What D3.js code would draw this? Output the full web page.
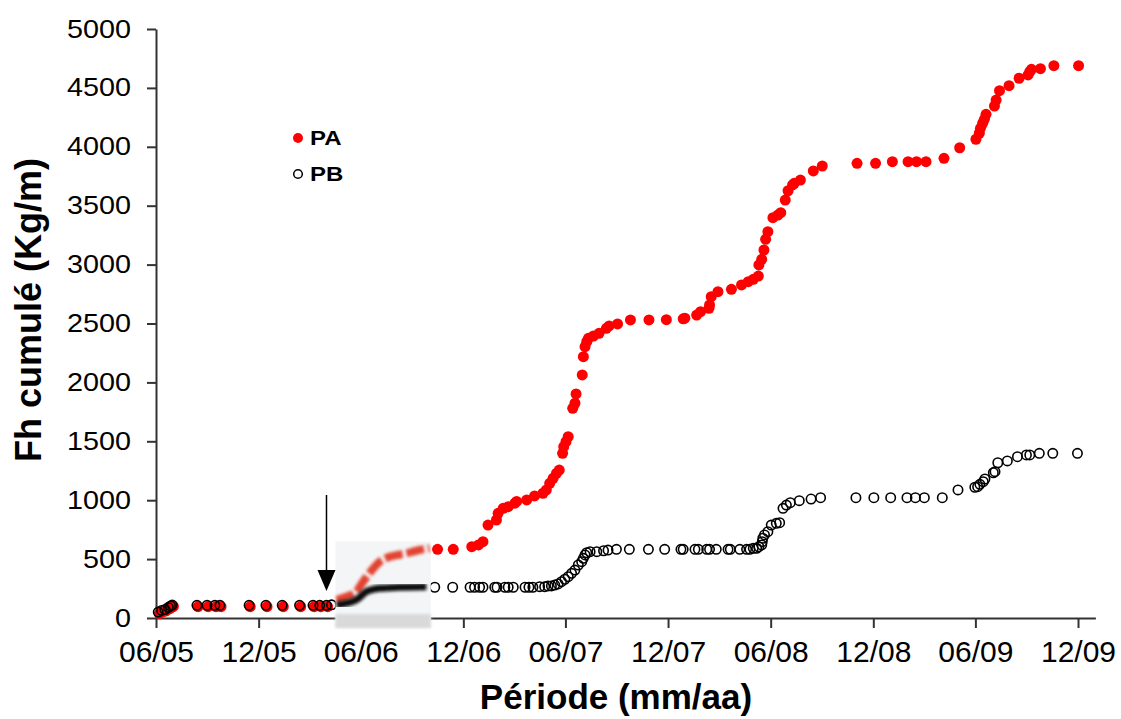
<!DOCTYPE html>
<html>
<head>
<meta charset="utf-8">
<script src="https://cdn.jsdelivr.net/npm/d3@7"></script>
<style>
  html, body { margin: 0; padding: 0; background: #fff; }
  svg { display: block; font-family: "Liberation Sans", Arial, sans-serif; }
</style>
</head>
<body>
<svg id="chart" width="1121" height="719"></svg>
<script>
const parse = d3.utcParse("%Y-%m-%d");

// axis ticks
const xTickDates = ["2005-06-01", "2005-12-01", "2006-06-01", "2006-12-01", "2007-06-01",
  "2007-12-01", "2008-06-01", "2008-12-01", "2009-06-01", "2009-12-01"];
const xTickLabels = ["06/05", "12/05", "06/06", "12/06", "06/07", "12/07", "06/08", "12/08", "06/09", "12/09"];
const yTicks = [0, 500, 1000, 1500, 2000, 2500, 3000, 3500, 4000, 4500, 5000];

// PA (filled red)
const paDates = [
  "2005-06-07", "2005-06-13", "2005-06-19", "2005-06-25", "2005-06-29", "2005-07-02",
  "2005-08-15", "2005-09-02", "2005-09-16", "2005-09-25", "2005-11-16", "2005-12-16",
  "2006-01-14", "2006-02-14", "2006-03-10", "2006-03-22", "2006-04-03",
  "2006-10-16", "2006-11-13", "2006-12-16", "2006-12-28", "2007-01-05", "2007-01-14",
  "2007-01-29", "2007-02-01", "2007-02-10", "2007-02-19", "2007-03-03", "2007-03-06",
  "2007-03-24", "2007-04-07", "2007-04-22", "2007-04-28", "2007-05-04", "2007-05-10",
  "2007-05-16", "2007-05-21", "2007-05-27", "2007-05-29", "2007-06-02", "2007-06-06",
  "2007-06-14", "2007-06-18", "2007-06-20", "2007-07-01", "2007-07-03", "2007-07-06",
  "2007-07-09", "2007-07-12", "2007-07-21", "2007-07-31", "2007-08-13", "2007-08-18",
  "2007-09-02", "2007-09-25", "2007-10-28", "2007-11-28", "2007-12-28", "2007-12-31",
  "2008-01-21", "2008-01-28", "2008-02-12", "2008-02-13", "2008-02-16", "2008-02-28",
  "2008-03-23", "2008-04-10", "2008-04-22", "2008-05-01", "2008-05-10", "2008-05-11",
  "2008-05-16", "2008-05-20", "2008-05-23", "2008-05-27", "2008-06-05", "2008-06-14",
  "2008-06-19", "2008-06-27", "2008-07-02", "2008-07-10", "2008-07-13", "2008-07-24",
  "2008-08-16", "2008-09-01", "2008-11-02", "2008-12-05", "2009-01-04", "2009-02-01",
  "2009-02-16", "2009-03-05", "2009-04-06", "2009-05-04", "2009-06-02", "2009-06-08",
  "2009-06-10", "2009-06-14", "2009-06-17", "2009-06-20", "2009-07-05", "2009-07-08",
  "2009-07-14", "2009-07-31", "2009-08-18", "2009-09-03", "2009-09-06", "2009-09-09",
  "2009-09-25", "2009-10-19", "2009-12-02"
];
const paValues = [
  38, 52, 60, 78, 90, 98,
  96, 96, 96, 96, 96, 96,
  96, 96, 96, 96, 96,
  583, 583, 605, 620, 648, 789,
  832, 889, 931, 945, 975, 990,
  1002, 1036, 1059, 1087, 1143, 1186,
  1228, 1256, 1398, 1454, 1497, 1539,
  1780, 1823, 1902, 2063, 2218, 2303,
  2346, 2374, 2394, 2417, 2459, 2479,
  2496, 2530, 2530, 2532, 2540, 2545,
  2572, 2600, 2629, 2657, 2728, 2770,
  2790, 2827, 2855, 2875, 2903, 2997,
  3045, 3124, 3215, 3279, 3398, 3421,
  3441, 3548, 3627, 3676, 3690, 3718,
  3795, 3837, 3860, 3860, 3874, 3874,
  3874, 3874, 3902, 3992, 4064, 4115,
  4157, 4200, 4233, 4276, 4346, 4397,
  4476, 4519, 4582, 4610, 4638, 4658,
  4663, 4689, 4689
];

// PB (open black)
const pbDates = [
  "2005-06-05", "2005-06-11", "2005-06-17", "2005-06-23", "2005-06-27", "2005-06-30",
  "2005-08-13", "2005-08-31", "2005-09-14", "2005-09-23", "2005-11-14", "2005-12-14",
  "2006-01-12", "2006-02-12", "2006-03-08", "2006-03-20", "2006-04-01", "2006-04-10",
  "2006-10-11", "2006-11-12", "2006-12-13", "2006-12-21", "2006-12-30", "2007-01-05",
  "2007-01-26", "2007-01-30", "2007-02-13", "2007-02-19", "2007-02-28", "2007-03-21",
  "2007-03-28", "2007-04-04", "2007-04-16", "2007-04-25", "2007-05-01", "2007-05-07",
  "2007-05-13", "2007-05-19", "2007-05-25", "2007-05-31", "2007-06-06", "2007-06-12",
  "2007-06-18", "2007-06-24", "2007-06-30", "2007-07-03", "2007-07-06", "2007-07-09",
  "2007-07-15", "2007-07-27", "2007-08-08", "2007-08-16", "2007-08-31", "2007-09-23",
  "2007-10-27", "2007-11-25", "2007-12-24", "2007-12-28", "2008-01-18", "2008-01-24",
  "2008-02-08", "2008-02-13", "2008-02-25", "2008-03-17", "2008-03-21", "2008-04-07",
  "2008-04-19", "2008-04-25", "2008-05-01", "2008-05-07", "2008-05-11", "2008-05-16",
  "2008-05-17", "2008-05-18", "2008-05-21", "2008-05-27", "2008-06-02", "2008-06-11",
  "2008-06-17", "2008-06-23", "2008-06-29", "2008-07-06", "2008-07-22", "2008-08-12",
  "2008-08-29", "2008-10-31", "2008-12-02", "2009-01-01", "2009-01-30", "2009-02-14",
  "2009-03-02", "2009-04-03", "2009-05-01", "2009-05-31", "2009-06-05", "2009-06-09",
  "2009-06-15", "2009-06-18", "2009-07-03", "2009-07-06", "2009-07-11", "2009-07-28",
  "2009-08-15", "2009-08-31", "2009-09-06", "2009-09-23", "2009-10-17", "2009-11-30"
];
const pbValues = [
  50, 64, 72, 90, 102, 110,
  108, 108, 108, 108, 108, 108,
  108, 108, 108, 108, 108, 112,
  261, 261, 261, 261, 261, 261,
  261, 261, 261, 261, 261, 261,
  261, 261, 266, 266, 272, 272,
  280, 289, 308, 329, 351, 379,
  407, 450, 478, 507, 535, 554,
  563, 563, 571, 577, 583, 583,
  583, 583, 583, 583, 583, 583,
  583, 583, 583, 583, 583, 583,
  583, 583, 592, 592, 605, 620,
  648, 677, 705, 733, 789, 804,
  809, 931, 959, 979, 996, 1010,
  1021, 1021, 1021, 1021, 1021, 1021,
  1021, 1021, 1087, 1110, 1115, 1135,
  1157, 1180, 1233, 1242, 1318, 1333,
  1369, 1384, 1384, 1398, 1398, 1398
];

// blurred pasted patch (spring - autumn 2006)
const insetPaDates = ["2006-04-19", "2006-05-05", "2006-05-24", "2006-06-05", "2006-06-17", "2006-07-05",
  "2006-07-23", "2006-08-06", "2006-08-22", "2006-09-08", "2006-10-02"];
const insetPaValues = [153, 178, 223, 306, 382, 478, 520, 535, 549, 571, 592];
const insetPbDates = ["2006-04-19", "2006-05-24", "2006-06-11", "2006-07-05", "2006-08-10", "2006-09-26"];
const insetPbValues = [110, 153, 223, 252, 261, 266];
const insetRange = ["2006-04-17", "2006-10-04"];

// arrow marking the start of treatment
const arrowDate = "2006-04-01";
const arrowFrom = 1044, arrowTo = 229;

const svg = d3.select("#chart");
const x = d3.scaleUtc()
  .domain([parse("2005-06-01"), parse("2010-01-01")])
  .range([156, 1095.4]);
const y = d3.scaleLinear().domain([0, 5000]).range([618, 29]);

const pa = paDates.map((d, i) => ({ date: parse(d), value: paValues[i] }));
const pb = pbDates.map((d, i) => ({ date: parse(d), value: pbValues[i] }));

// Axes
const xAxis = svg.append("g")
  .attr("transform", `translate(0,${y(0)})`)
  .call(d3.axisBottom(x)
    .tickValues(xTickDates.map(parse))
    .tickFormat((d, i) => xTickLabels[i])
    .tickSize(10).tickSizeOuter(0).tickPadding(13));
xAxis.selectAll("text").attr("font-size", "30px").attr("fill", "#000");

const yAxis = svg.append("g")
  .attr("transform", `translate(${x.range()[0]},0)`)
  .call(d3.axisLeft(y).tickValues(yTicks).tickFormat(d3.format("d"))
    .tickSize(9).tickSizeOuter(0));
yAxis.selectAll("text")
  .attr("x", 0)
  .attr("font-size", "25px")
  .attr("fill", "#000")
  .attr("transform", "translate(-25,0) scale(1.15,1)");

svg.selectAll(".domain, .tick line").attr("stroke", "#333").attr("stroke-width", 2);

// Series
svg.append("g").selectAll("circle")
  .data(pa).join("circle")
  .attr("cx", d => x(d.date)).attr("cy", d => y(d.value))
  .attr("r", 5.5).attr("fill", "#ff0000");

svg.append("g").selectAll("circle")
  .data(pb).join("circle")
  .attr("cx", d => x(d.date)).attr("cy", d => y(d.value))
  .attr("r", 4.7).attr("fill", "none")
  .attr("stroke", "#000").attr("stroke-width", 1.6);

// Pasted patch
const defs = svg.append("defs");
defs.append("filter").attr("id", "blur")
  .append("feGaussianBlur").attr("stdDeviation", 1.6);
const x0 = x(parse(insetRange[0])), x1 = x(parse(insetRange[1]));
const patch = svg.append("g");
patch.append("rect")
  .attr("x", x0).attr("y", y(650))
  .attr("width", x1 - x0).attr("height", y(0) + 10 - y(650))
  .attr("fill", "#f3f5f7");
patch.append("rect")
  .attr("x", x0).attr("y", y(0) - 4)
  .attr("width", x1 - x0).attr("height", 14)
  .attr("fill", "#d9d9d9").attr("filter", "url(#blur)");
patch.append("line")
  .attr("x1", x(parse("2006-05-31"))).attr("x2", x(parse("2006-05-31")))
  .attr("y1", y(0) - 2).attr("y2", y(0) + 10)
  .attr("stroke", "#777").attr("stroke-width", 2.5).attr("filter", "url(#blur)");

const trail = d3.line().x(d => x(d.date)).y(d => y(d.value)).curve(d3.curveMonotoneX);
patch.append("path")
  .datum(insetPaDates.map((d, i) => ({ date: parse(d), value: insetPaValues[i] })))
  .attr("d", trail)
  .attr("fill", "none").attr("stroke", "#e0301c").attr("stroke-width", 8)
  .attr("stroke-dasharray", "18 4").attr("opacity", 0.9).attr("filter", "url(#blur)");
patch.append("path")
  .datum(insetPbDates.map((d, i) => ({ date: parse(d), value: insetPbValues[i] })))
  .attr("d", trail)
  .attr("fill", "none").attr("stroke", "#111").attr("stroke-width", 7)
  .attr("filter", "url(#blur)");

// Arrow
const ax = x(parse(arrowDate));
svg.append("line")
  .attr("x1", ax).attr("x2", ax)
  .attr("y1", y(arrowFrom)).attr("y2", y(arrowTo) - 18)
  .attr("stroke", "#000").attr("stroke-width", 1.5);
svg.append("path")
  .attr("d", `M${ax - 9},${y(arrowTo) - 21} L${ax + 9},${y(arrowTo) - 21} L${ax},${y(arrowTo)} Z`)
  .attr("fill", "#000");

// Legend
const legend = svg.append("g").attr("transform", "translate(298,138)");
legend.append("circle").attr("r", 5).attr("fill", "#ff0000");
legend.append("circle").attr("cy", 36).attr("r", 4.3)
  .attr("fill", "none").attr("stroke", "#000").attr("stroke-width", 1.5);
["PA", "PB"].forEach((name, i) => {
  legend.append("text")
    .attr("transform", `translate(12,${i * 36 + 7}) scale(1.2,1)`)
    .attr("font-size", "20px").attr("font-weight", "bold")
    .text(name);
});

// Titles
svg.append("text")
  .attr("x", 616).attr("y", 709)
  .attr("text-anchor", "middle")
  .attr("font-size", "35px").attr("font-weight", "bold")
  .text("Période (mm/aa)");
svg.append("text")
  .attr("transform", "translate(41,310) rotate(-90)")
  .attr("text-anchor", "middle")
  .attr("font-size", "36px").attr("font-weight", "bold")
  .text("Fh cumulé (Kg/m)");
</script>
</body>
</html>
